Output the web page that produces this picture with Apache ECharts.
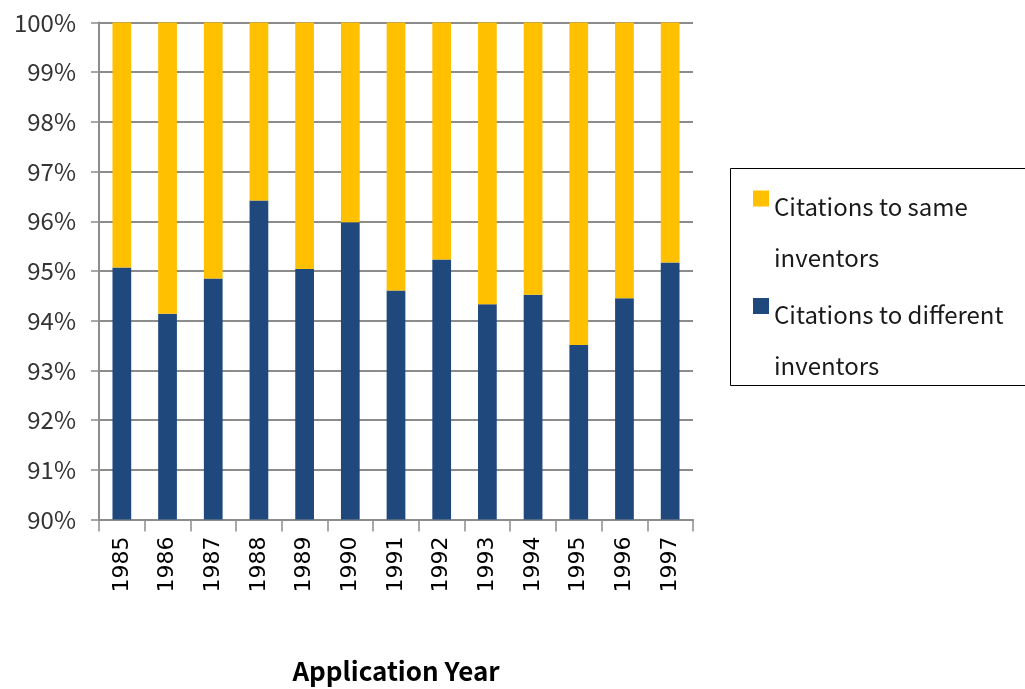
<!DOCTYPE html>
<html><head><meta charset="utf-8">
<script src="https://cdn.jsdelivr.net/npm/echarts@6/dist/echarts.min.js"></script>
<style>html,body{margin:0;padding:0;background:#fff}#c{width:1025px;height:689px}</style>
</head><body><div id="c"></div>
<script>
const years = ['1985','1986','1987','1988','1989','1990','1991','1992','1993','1994','1995','1996','1997'];
const differentInventors = [95.07, 94.14, 94.85, 96.42, 95.04, 95.98, 94.61, 95.23, 94.33, 94.52, 93.51, 94.45, 95.17];
const sameInventors = [4.93, 5.86, 5.15, 3.58, 4.96, 4.02, 5.39, 4.77, 5.67, 5.48, 6.49, 5.55, 4.83];
const seriesNames = ['Citations to same inventors', 'Citations to different inventors'];
const legendLines = {
  'Citations to same inventors': ['Citations to same', 'inventors'],
  'Citations to different inventors': ['Citations to different', 'inventors']
};
const xTitle = 'Application Year';

const chart = echarts.init(document.getElementById('c'));
const font = '"Noto Sans CJK KR", "DejaVu Sans", sans-serif';
chart.setOption({
  animation: false,
  grid: {left: 99, width: 594, top: 22.5, height: 497, outerBoundsMode: 'none', containLabel: false},
  graphic: [{
    type: 'rect', left: 728, top: 166, silent: true,
    shape: {width: 310, height: 217},
    style: {fill: 'none', stroke: '#000', lineWidth: 1}
  }],
  legend: {
    left: 753, top: 142.5, orient: 'vertical',
    data: [seriesNames[0], seriesNames[1]],
    padding: 0,
    itemWidth: 16, itemHeight: 16, itemGap: -20,
    icon: 'rect',
    formatter: function (n) { const l = legendLines[n]; return '{s| }\n{t|' + l[0] + '}\n{t|' + l[1] + '}'; },
    textStyle: {fontFamily: font, fontSize: 24, color: '#1a1a1a',
      rich: {s: {lineHeight: 68, fontSize: 10}, t: {lineHeight: 51, fontSize: 24, fontFamily: font, color: '#1a1a1a'}}}
  },
  xAxis: {
    type: 'category', data: years,
    name: xTitle, nameLocation: 'middle', nameGap: 138.5,
    nameTextStyle: {fontFamily: font, fontSize: 26, fontWeight: 'bold', color: '#000'},
    axisLine: {lineStyle: {color: '#8c8c8c', width: 2}},
    axisTick: {show: true, length: 12, lineStyle: {color: '#8c8c8c', width: 1.5}},
    axisLabel: {rotate: 90, fontFamily: '"DejaVu Sans", sans-serif', fontSize: 22, color: '#000', margin: 17}
  },
  yAxis: {
    type: 'value', min: 90, max: 100, interval: 1,
    axisLine: {show: true, lineStyle: {color: '#8c8c8c', width: 2}},
    axisTick: {show: true, length: 8, lineStyle: {color: '#8c8c8c', width: 1.5}},
    splitLine: {lineStyle: {color: '#8c8c8c', width: 2}},
    axisLabel: {formatter: '{value}%', fontFamily: font, fontSize: 24, color: '#333', margin: 23}
  },
  series: [
    {name: seriesNames[1], type: 'bar', stack: 's', data: differentInventors, barWidth: '41%',
     itemStyle: {color: '#1F497D'}},
    {name: seriesNames[0], type: 'bar', stack: 's', data: sameInventors, barWidth: '41%',
     itemStyle: {color: '#FFC000'}}
  ]
});
</script></body></html>
